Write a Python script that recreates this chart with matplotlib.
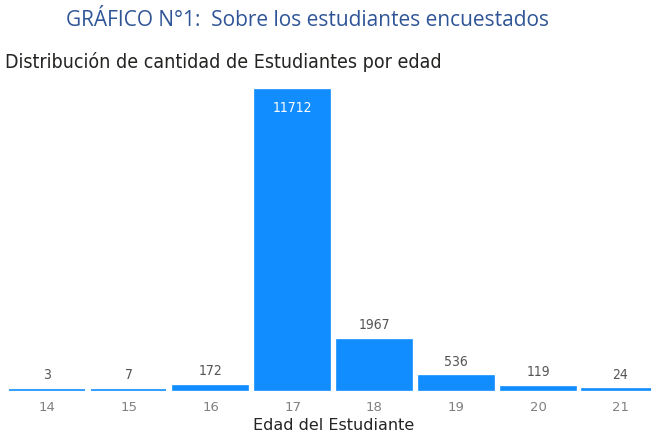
import matplotlib
matplotlib.use("Agg")
import matplotlib.pyplot as plt

ages = [14, 15, 16, 17, 18, 19, 20, 21]
counts = [3, 7, 172, 11712, 1967, 536, 119, 24]

title = "GRÁFICO N°1:  Sobre los estudiantes encuestados"
subtitle = "Distribución de cantidad de Estudiantes por edad"
xlabel = "Edad del Estudiante"

W, H = 651, 437
fig = plt.figure(figsize=(W / 100, H / 100), dpi=100)
fig.patch.set_facecolor("white")

x0, x1 = 6, 661
y0, y1 = H - 390, H - 90
ax = fig.add_axes([x0 / W, y0 / H, (x1 - x0) / W, (y1 - y0) / H])
ax.set_xlim(13.5, 21.5)
ax.set_ylim(0, max(counts))

ax.bar(ages, counts, width=0.92, color="#118DFF", edgecolor="#118DFF",
       linewidth=1.2, clip_on=False)
for a, c in zip(ages, counts):
    if c == max(counts):
        ax.text(a, c - max(counts) * 0.035, f"{c}", ha="center", va="top",
                color="white", fontsize=10, family="DejaVu Sans", stretch="condensed")
    else:
        ax.text(a, c + max(counts) * 0.025, f"{c}", ha="center", va="bottom",
                color="#555555", fontsize=10, family="DejaVu Sans", stretch="condensed")

ax.set_xticks(ages)
ax.set_xticklabels([str(a) for a in ages], color="#808080", fontsize=9.5)
ax.tick_params(axis="x", length=0, pad=8)
ax.set_yticks([])
for s in ax.spines.values():
    s.set_visible(False)
ax.set_xlabel(xlabel, fontsize=11.5, color="#252423", labelpad=3)
ax.patch.set_alpha(0)

fig.text(307 / W, 1 - 21 / H, title, ha="center", va="center",
         fontsize=15, color="#2F5597", family="Open Sans")
fig.text(5 / W, 1 - 62 / H, subtitle, ha="left", va="center",
         fontsize=14, color="#252423", family="DejaVu Sans", stretch="condensed")

fig.savefig("out.png", dpi=100)
